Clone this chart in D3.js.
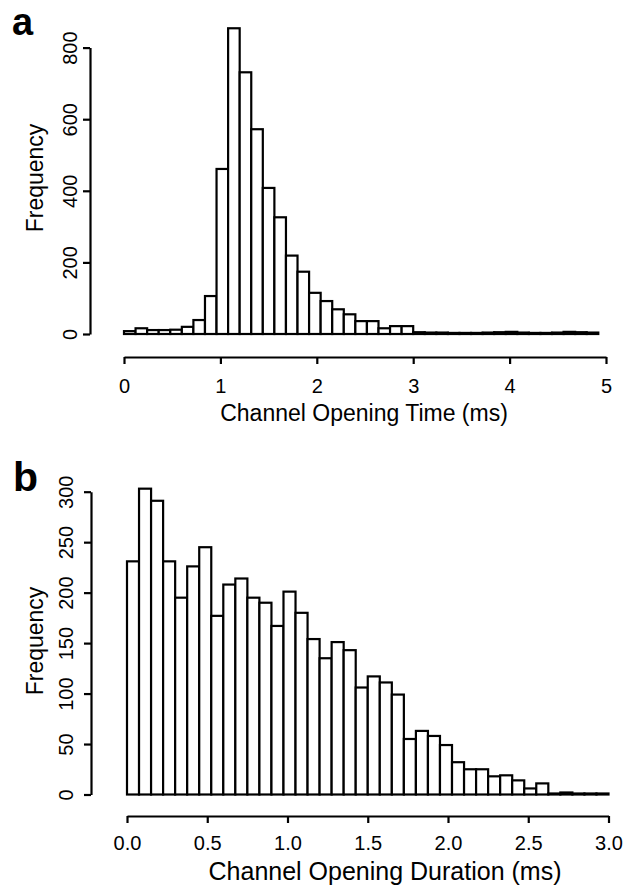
<!DOCTYPE html>
<html>
<head>
<meta charset="utf-8">
<script src="https://cdn.jsdelivr.net/npm/d3@7"></script>
<style>
  body { margin: 0; background: #fff; }
  svg { display: block; }
  text { font-family: "Liberation Sans", Arial, Helvetica, sans-serif; fill: #000; }
</style>
</head>
<body>
<svg id="chart" width="636" height="888"></svg>
<script>
// Panel a: channel opening time, 0.12 ms bins from 0 to 4.92 ms
const timeBinWidth = 0.12;
const timeCounts = [8, 16, 11, 11, 12, 20, 39, 106, 461, 854, 731, 572, 408, 326, 219, 174,
                    115, 92, 69, 55, 36, 36, 16, 22, 22,
                    5, 4, 4, 3, 3, 3, 4, 5, 6, 4, 3, 3, 4, 6, 5, 4];
const timeTicks = [0, 1, 2, 3, 4, 5];
const timeFreqTicks = [0, 200, 400, 600, 800];

// Panel b: channel opening duration, 0.075 ms bins from 0 to 3.0 ms
const durBinWidth = 0.075;
const durCounts = [231, 303, 291, 231, 195, 226, 245, 177, 208, 214, 195, 190, 167, 201, 180,
                   154, 135, 151, 143, 106, 117, 111, 99, 55, 63, 58, 49, 32, 25, 25, 18, 19,
                   14, 6, 11, 1, 2, 1, 1, 1];
const durTicks = [0, 0.5, 1, 1.5, 2, 2.5, 3];
const durFreqTicks = [0, 50, 100, 150, 200, 250, 300];

const svg = d3.select("#chart");

function drawPanel(cfg) {
  const g = svg.append("g");
  const x = d3.scaleLinear().domain(cfg.xDomain).range(cfg.xRange);
  const y = d3.scaleLinear().domain(cfg.yDomain).range(cfg.yRange);

  // histogram bars
  g.append("g").selectAll("rect")
    .data(cfg.counts)
    .join("rect")
      .attr("x", (d, i) => x(i * cfg.binWidth))
      .attr("width", (d, i) => x((i + 1) * cfg.binWidth) - x(i * cfg.binWidth))
      .attr("y", d => y(d))
      .attr("height", d => y(0) - y(d))
      .attr("fill", "#fff")
      .attr("stroke", "#000")
      .attr("stroke-width", 2.2);

  // frequency axis
  const ya = g.append("g")
    .attr("transform", `translate(${cfg.yAxisX},0)`)
    .call(d3.axisLeft(y).tickValues(cfg.yTicks).tickSize(7).tickSizeOuter(0).tickFormat(d3.format("d")));
  ya.select(".domain").attr("stroke-width", 2.2);
  ya.selectAll(".tick line").attr("stroke-width", 2.2);
  ya.selectAll(".tick text")
    .attr("transform", "rotate(-90)")
    .attr("x", 0)
    .attr("y", -cfg.yLabelOffset)
    .attr("dy", 0)
    .attr("text-anchor", "middle")
    .style("font-size", "20px");

  // time axis
  const xa = g.append("g")
    .attr("transform", `translate(0,${cfg.xAxisY})`)
    .call(d3.axisBottom(x).tickValues(cfg.xTicks).tickSize(7).tickSizeOuter(0).tickFormat(cfg.xFormat));
  xa.select(".domain").attr("stroke-width", 2.2);
  xa.selectAll(".tick line").attr("stroke-width", 2.2);
  xa.selectAll(".tick text")
    .attr("y", cfg.xLabelOffset)
    .attr("dy", 0)
    .style("font-size", "20px");

  // titles
  g.append("text")
    .attr("transform", `translate(${cfg.yTitleX},${cfg.yTitleY}) rotate(-90)`)
    .attr("text-anchor", "middle")
    .style("font-size", "23px")
    .text("Frequency");

  g.append("text")
    .attr("x", cfg.xTitleX)
    .attr("y", cfg.xTitleY)
    .attr("text-anchor", "middle")
    .style("font-size", cfg.xTitleSize)
    .text(cfg.xTitle);

  g.append("text")
    .attr("x", cfg.letterX)
    .attr("y", cfg.letterY)
    .style("font-size", cfg.letterSize)
    .style("font-weight", "bold")
    .text(cfg.letter);
}

drawPanel({
  letter: "a", letterX: 12, letterY: 35, letterSize: "38px",
  counts: timeCounts, binWidth: timeBinWidth,
  xDomain: [0, 5], xRange: [124, 606],
  yDomain: [0, 800], yRange: [334, 47.6],
  xTicks: timeTicks, yTicks: timeFreqTicks,
  xFormat: d3.format("d"),
  yAxisX: 90, yLabelOffset: 13,
  xAxisY: 357, xLabelOffset: 36,
  yTitleX: 43, yTitleY: 178,
  xTitle: "Channel Opening Time (ms)", xTitleX: 364, xTitleY: 421, xTitleSize: "23px"
});

drawPanel({
  letter: "b", letterX: 13, letterY: 491, letterSize: "41px",
  counts: durCounts, binWidth: durBinWidth,
  xDomain: [0, 3], xRange: [127, 608.5],
  yDomain: [0, 300], yRange: [794.5, 491.7],
  xTicks: durTicks, yTicks: durFreqTicks,
  xFormat: d3.format(".1f"),
  yAxisX: 91, yLabelOffset: 18,
  xAxisY: 816, xLabelOffset: 34,
  yTitleX: 43, yTitleY: 641,
  xTitle: "Channel Opening Duration (ms)", xTitleX: 385, xTitleY: 880, xTitleSize: "25px"
});
</script>
</body>
</html>
